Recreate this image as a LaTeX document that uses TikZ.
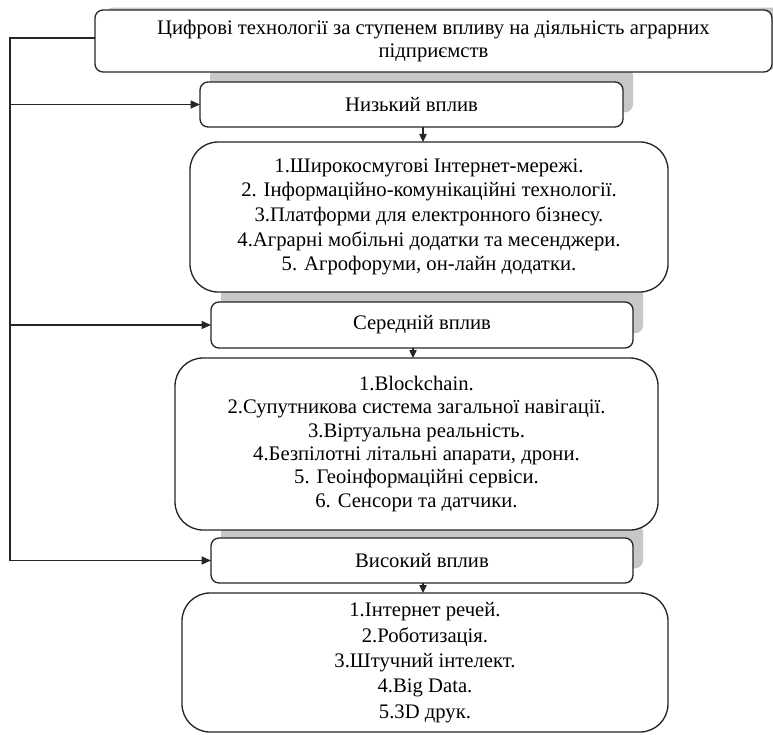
\documentclass[tikz,border=0pt]{standalone}
\usepackage{fontspec}
\setmainfont{Liberation Serif}
\usetikzlibrary{arrows.meta,backgrounds}
\begin{document}
\begin{tikzpicture}[x=0.75pt,y=-0.75pt,
  box/.style={draw=black!85, line width=1pt, fill=white, inner sep=0pt, outer sep=0pt, align=center, font=\fontsize{15.5}{17.3}\selectfont},
  hdr/.style={box, rounded corners=6pt},
  lst/.style={box, rounded corners=21pt},
  conn/.style={draw=black!85, line width=0.9pt},
  arr/.style={conn, -{Triangle[length=7pt,width=6pt]}},
  darr/.style={conn, -{Triangle[length=6pt,width=5.5pt]}},
  shade/.style={fill=black!22, draw=none, rounded corners=6pt}]
\useasboundingbox (0,0) rectangle (773,734);

\node[hdr, minimum width=507.75pt, minimum height=46.5pt] (top) at (433.5,41)
  {Цифрові технології за ступенем впливу на діяльність аграрних\\підприємств};
\node[hdr, minimum width=317.25pt, minimum height=33.75pt] (low) at (411.5,104.5) {Низький вплив};
\node[lst, minimum width=358.5pt, minimum height=112.5pt, font=\fontsize{15.5}{18.5}\selectfont] (list1) at (429,217)
  {1.Широкосмугові Інтернет-мережі.\\
   2. Інформаційно-комунікаційні технології.\\
   3.Платформи для електронного бізнесу.\\
   4.Аграрні мобільні додатки та месенджери.\\
   5. Агрофоруми, он-лайн додатки.};
\node[hdr, minimum width=316.5pt, minimum height=34.5pt] (mid) at (422,325) {Середній вплив};
\node[lst, minimum width=362.25pt, minimum height=129pt, font=\fontsize{15.5}{17.5}\selectfont] (list2) at (416.5,444)
  {1.Blockchain.\\
   2.Супутникова система загальної навігації.\\
   3.Віртуальна реальність.\\
   4.Безпілотні літальні апарати, дрони.\\
   5. Геоінформаційні сервіси.\\
   6. Сенсори та датчики.};
\node[hdr, minimum width=316.5pt, minimum height=33.75pt] (high) at (422,560.5) {Високий вплив};
\node[lst, minimum width=364.5pt, minimum height=104.25pt, font=\fontsize{15.5}{19}\selectfont] (list3) at (425,662.5)
  {1.Інтернет речей.\\
   2.Роботизація.\\
   3.Штучний інтелект.\\
   4.Big Data.\\
   5.3D друк.};

\begin{scope}[on background layer]
  \fill[shade] ([xshift=7.5pt,yshift=1.8pt]top.south west) rectangle ([xshift=7.5pt,yshift=1.8pt]top.north east);
  \foreach \n in {low,mid,high}
    \fill[shade] ([xshift=7.5pt,yshift=11pt]\n.south west) rectangle ([xshift=7.5pt,yshift=11pt]\n.north east);
\end{scope}

\coordinate (trunk) at (10,38);
\coordinate (a1) at (423,0);
\coordinate (a2) at (413,0);
\coordinate (a3) at (423,0);

\draw[conn] ([yshift=2.25pt]top.west) -- (trunk) -- (trunk |- high.west);
\draw[arr] (trunk |- low.west) -- (low.west);
\draw[arr] (trunk |- mid.west) -- (mid.west);
\draw[arr] (trunk |- high.west) -- (high.west);

\draw[darr] (a1 |- low.south) -- (a1 |- list1.north);
\draw[darr] (a2 |- mid.south) -- (a2 |- list2.north);
\draw[darr] (a3 |- high.south) -- (a3 |- list3.north);
\end{tikzpicture}
\end{document}
